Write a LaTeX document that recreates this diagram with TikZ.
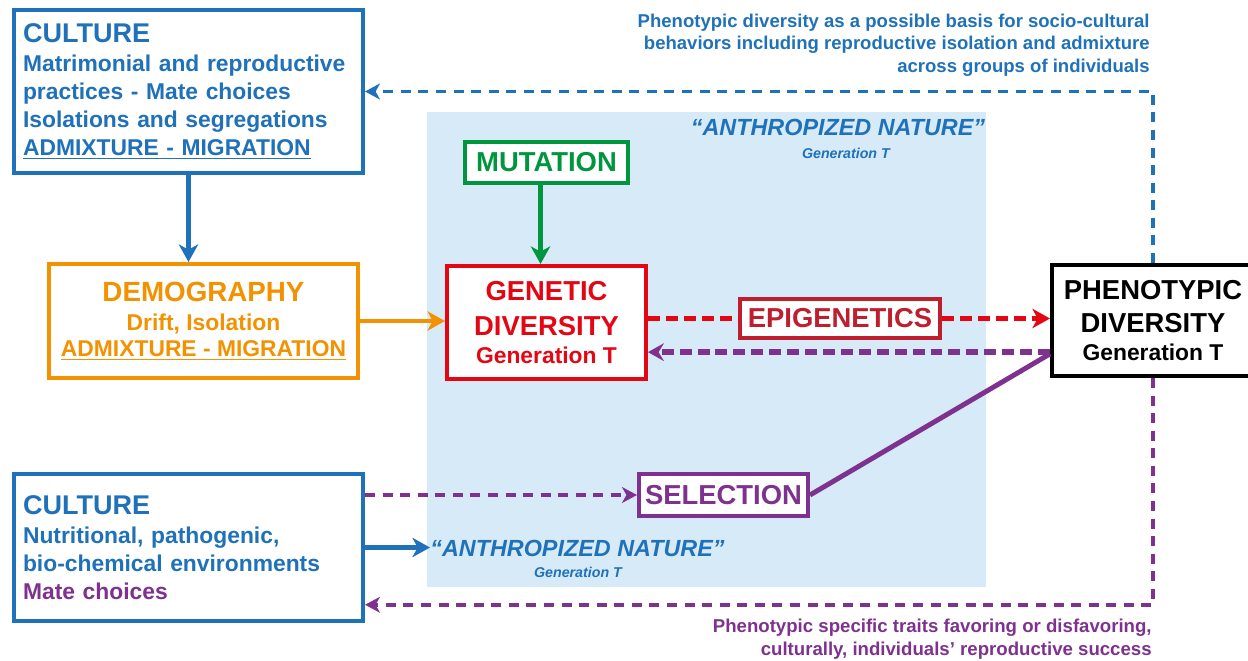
\documentclass[tikz,border=0pt]{standalone}
\usepackage{fontspec}
\setmainfont{Liberation Sans}
\usetikzlibrary{arrows.meta}
\definecolor{culblue}{RGB}{31,113,185}
\definecolor{demorange}{RGB}{243,146,0}
\definecolor{mutgreen}{RGB}{0,150,64}
\definecolor{genred}{RGB}{228,6,19}
\definecolor{epired}{RGB}{190,30,45}
\definecolor{selpurple}{RGB}{126,49,142}
\definecolor{natblue}{RGB}{214,234,247}

\begin{document}
\begin{tikzpicture}[x=0.02cm,y=-0.02cm,
    pbox/.style={draw,fill=white,line width=2.3pt,inner sep=0pt,align=center},
    hd/.style={font=\fontsize{15.6}{19.8}\selectfont\bfseries},
    bd/.style={font=\fontsize{13}{15.9}\selectfont\bfseries},
    fullarr/.style={line width=2.8pt,-{Stealth[length=10pt,width=11pt,inset=3pt]}},
    dasharr/.style={line width=2.1pt,dash pattern=on 5.7pt off 4.3pt,-{Stealth[length=8.5pt,width=9pt,inset=2.5pt]}},
    fatdash/.style={line width=3.4pt,dash pattern=on 6.8pt off 3.4pt}]
  \useasboundingbox (0,0) rectangle (1248,660);

  % ANTHROPIZED NATURE
  \fill[natblue] (427,112) rectangle (986,587);
  \node[text=culblue,align=center,font=\fontsize{13.3}{13}\selectfont\bfseries\itshape] (natA) at (838,139) {“ANTHROPIZED NATURE”\\\hspace*{9pt}{\fontsize{8.1}{10}\selectfont Generation T}};

  % BOXES
  \node[pbox,draw=culblue,text=culblue,bd,align=left,text width=6.62cm,minimum width=6.98cm,minimum height=3.26cm] (cultA) at (188.5,91.5) {{\fontsize{15.4}{18}\selectfont CULTURE}\\[0.3pt]Matrimonial and reproductive\\practices - Mate choices\\Isolations and segregations\\\underline{ADMIXTURE - MIGRATION}};
  \node[pbox,draw=demorange,text=demorange,bd,minimum width=6.18cm,minimum height=2.28cm] (demo) at (203.5,321) {{\fontsize{15.8}{19}\selectfont DEMOGRAPHY}\\[0.7pt]Drift, Isolation\\[-1.2pt]\underline{ADMIXTURE - MIGRATION}};
  \node[pbox,draw=mutgreen,text=mutgreen,hd,minimum width=3.26cm,minimum height=0.82cm] (mut) at (546.5,162.5) {MUTATION};
  \node[pbox,draw=genred,text=genred,hd,minimum width=3.98cm,minimum height=2.26cm] (gen) at (546.5,322.5) {GENETIC\\DIVERSITY\\[-3.7pt]{\fontsize{13}{15}\selectfont Generation T}};
  \node[pbox,draw=epired,text=epired,hd,minimum width=4.0cm,minimum height=0.78cm] (epi) at (840,318.5) {EPIGENETICS};
  \node[pbox,draw=black,text=black,hd,minimum width=4.04cm,minimum height=2.22cm] (phen) at (1153,320.5) {PHENOTYPIC\\[-1.1pt]DIVERSITY\\[-4.3pt]{\fontsize{13}{15}\selectfont Generation T}};
  \node[pbox,draw=selpurple,text=selpurple,hd,minimum width=3.38cm,minimum height=0.84cm] (sel) at (723.5,495) {SELECTION};
  \node[pbox,draw=culblue,text=culblue,bd,align=left,text width=6.62cm,minimum width=6.98cm,minimum height=2.94cm] (cultB) at (188.5,547.5) {{\fontsize{15.4}{18}\selectfont CULTURE}\\[0.3pt]Nutritional, pathogenic,\\bio-chemical environments\\\textcolor{selpurple}{Mate choices}};
  \node[anchor=west,text=culblue,font=\fontsize{13.3}{15}\selectfont\bfseries\itshape,inner sep=0pt] (natB) at (430,548) {“ANTHROPIZED NATURE”};
  \node[text=culblue,font=\fontsize{8.1}{10}\selectfont\bfseries\itshape,inner sep=0pt] (genB) at (578,572) {Generation T};

  % NOTES
  \node[text=culblue,align=right,anchor=east,inner sep=0pt,font=\fontsize{10.55}{12.75}\selectfont\bfseries] (noteA) at (1150,45) {Phenotypic diversity as a possible basis for socio-cultural\\behaviors including reproductive isolation and admixture\\across groups of individuals};
  \node[text=selpurple,align=right,anchor=east,inner sep=0pt,font=\fontsize{10.6}{12.75}\selectfont\bfseries] (noteB) at (1152,639) {Phenotypic specific traits favoring or disfavoring,\\culturally, individuals’ reproductive success};

  % CONNECTORS
  \draw[fullarr,culblue] (cultA.south) -- (cultA.south |- demo.north);
  \draw[fullarr,demorange] (demo.east) -- (demo.east -| gen.west);
  \draw[fullarr,mutgreen] ([xshift=-3.4pt]mut.south) -- ([xshift=-3.4pt]gen.north);
  \draw[fatdash,genred] (gen.east |- epi.west) -- (epi.west);
  \draw[fatdash,genred,-{Stealth[length=10pt,width=11pt,inset=3pt]}] (epi.east) -- (epi.east -| phen.west);
  \draw[fatdash,selpurple,-{Stealth[length=9pt,width=10pt,inset=3pt]}] ([yshift=-18pt]phen.west) -- ([yshift=-18pt]phen.west -| gen.east);
  \draw[line width=2.8pt,selpurple] ([yshift=-19pt]phen.west) -- (sel.east);
  \draw[dasharr,selpurple] (cultB.east |- sel.west) -- (sel.west);
  \draw[fullarr,culblue] (cultB.east) -- (cultB.east -| natB.west);
  \draw[dasharr,culblue] (phen.north) |- (cultA.east);
  \draw[dasharr,selpurple] (phen.south) |- ([yshift=-32.6pt]cultB.east);
\end{tikzpicture}
\end{document}
